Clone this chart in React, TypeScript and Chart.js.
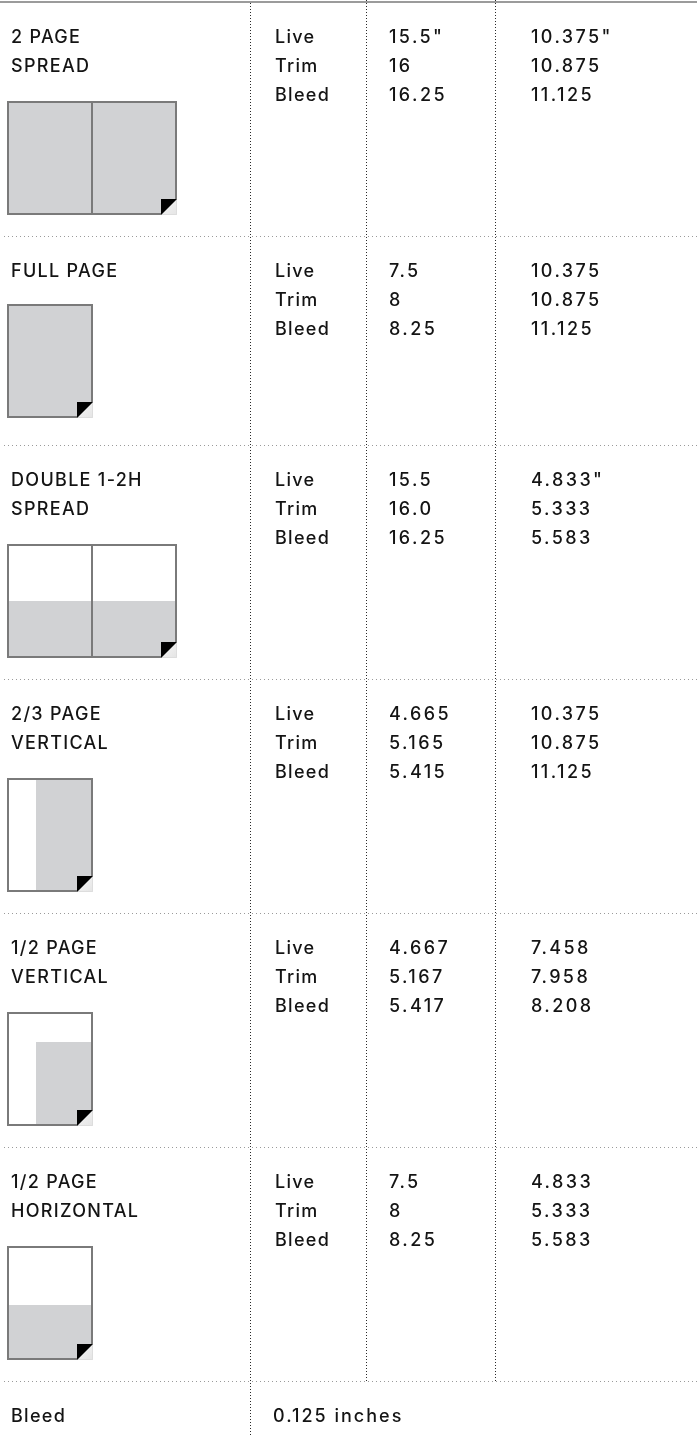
import React, { useEffect, useRef } from "react";
import { Chart, registerables } from "chart.js";

Chart.register(...registerables);

// ---------- data ----------
const adNames: string[][] = [
  ["2 PAGE", "SPREAD"],
  ["FULL PAGE"],
  ["DOUBLE 1-2H", "SPREAD"],
  ["2/3 PAGE", "VERTICAL"],
  ["1/2 PAGE", "VERTICAL"],
  ["1/2 PAGE", "HORIZONTAL"],
];
const dimLabels = ["Live", "Trim", "Bleed"];
const widthValues: string[][] = [
  ["15.5\"", "16", "16.25"],
  ["7.5", "8", "8.25"],
  ["15.5", "16.0", "16.25"],
  ["4.665", "5.165", "5.415"],
  ["4.667", "5.167", "5.417"],
  ["7.5", "8", "8.25"],
];
const heightValues: string[][] = [
  ["10.375\"", "10.875", "11.125"],
  ["10.375", "10.875", "11.125"],
  ["4.833\"", "5.333", "5.583"],
  ["10.375", "10.875", "11.125"],
  ["7.458", "7.958", "8.208"],
  ["4.833", "5.333", "5.583"],
];
const pageCounts = [2, 1, 2, 1, 1, 1];
// fraction of the page left blank (white) on the left / at the top
const blankLeft = [0, 0, 0, 0.333, 0.333, 0];
const blankTop = [0, 0, 0.5, 0, 0.26, 0.52];
const bleedLabel = "Bleed";
const bleedValue = "0.125 inches";

// ---------- layout / style ----------
const W = 697;
const H = 1441;
const TOP_Y = 2;
const TEXT_X = [11, 275, 389, 531];
const DIVIDERS_X = [250, 366, 495];
const LINE_GAP = 29;
const FIRST_BASE = 41;
const PAGE_W = 86;
const PAGE_H = 114;
const PAGE_X = 7;
const FOLD = 16;
const FONT = "500 18px Inter";
const LS_LABEL = "1.3px";
const LS_NUM = "2.4px";
const LS_BLEED = "2px";
const TEXT_COLOR = "#141414";
const GRAY_FILL = "#d1d2d4";
const PAGE_BORDER = "#7a7a7a";

function rowHeight(lines: number) {
  return lines > 1 ? 234 : 209;
}
function thumbOffset(lines: number) {
  return lines > 1 ? 99 : 68;
}

const tablePlugin = {
  id: "adTable",
  beforeDraw(chart: any) {
    const ctx = chart.ctx;
    ctx.save();
    ctx.fillStyle = "#ffffff";
    ctx.fillRect(0, 0, chart.width, chart.height);
    ctx.restore();
  },
  afterDraw(chart: any) {
    const ctx: CanvasRenderingContext2D = chart.ctx;
    const sx = chart.scales.x;
    const sy = chart.scales.y;
    const X = (v: number) => sx.getPixelForValue(v);
    const Y = (v: number) => sy.getPixelForValue(v);

    ctx.save();

    const rowTops: number[] = [];
    let r = TOP_Y;
    adNames.forEach((n) => {
      rowTops.push(r);
      r += rowHeight(n.length);
    });
    const lastTop = r;

    // top solid rule
    ctx.fillStyle = "#9b9b9b";
    ctx.fillRect(X(0), Y(TOP_Y - 1), X(W) - X(0), 2);

    // horizontal dotted separators
    ctx.strokeStyle = "#9a9a9a";
    ctx.lineWidth = 1;
    ctx.setLineDash([1, 3]);
    [...rowTops.slice(1), lastTop].forEach((t) => {
      ctx.beginPath();
      ctx.moveTo(X(4), Math.round(Y(t)) + 0.5);
      ctx.lineTo(X(W), Math.round(Y(t)) + 0.5);
      ctx.stroke();
    });

    // vertical dotted dividers
    ctx.strokeStyle = "#2a2a2a";
    ctx.setLineDash([1, 2]);
    DIVIDERS_X.forEach((dx, i) => {
      const end = i === 0 ? 1437 : lastTop;
      ctx.beginPath();
      ctx.moveTo(Math.round(X(dx)) + 0.5, Y(i === 0 ? TOP_Y + 1 : 0));
      ctx.lineTo(Math.round(X(dx)) + 0.5, Y(end));
      ctx.stroke();
    });
    ctx.setLineDash([]);

    // text
    ctx.fillStyle = TEXT_COLOR;
    ctx.font = FONT;
    ctx.textBaseline = "alphabetic";
    ctx.textAlign = "left";
    const c: any = ctx;

    adNames.forEach((lines, i) => {
      const t = rowTops[i];
      c.letterSpacing = LS_LABEL;
      lines.forEach((ln, k) => {
        ctx.fillText(ln, X(TEXT_X[0]), Y(t + FIRST_BASE + k * LINE_GAP));
      });
      dimLabels.forEach((lab, k) => {
        const yb = Y(t + FIRST_BASE + k * LINE_GAP);
        c.letterSpacing = LS_LABEL;
        ctx.fillText(lab, X(TEXT_X[1]), yb);
        c.letterSpacing = LS_NUM;
        ctx.fillText(widthValues[i][k], X(TEXT_X[2]), yb);
        ctx.fillText(heightValues[i][k], X(TEXT_X[3]), yb);
      });

      const ty = t + thumbOffset(lines.length);
      for (let p = 0; p < pageCounts[i]; p++) {
        const px = PAGE_X + p * (PAGE_W - 2);
        const last = p === pageCounts[i] - 1;
        drawPage(ctx, X(px), Y(ty), PAGE_W, PAGE_H, blankLeft[i], blankTop[i], last);
      }
    });

    ctx.fillStyle = TEXT_COLOR;
    c.letterSpacing = LS_LABEL;
    ctx.fillText(bleedLabel, X(TEXT_X[0]), Y(lastTop + FIRST_BASE));
    c.letterSpacing = LS_BLEED;
    ctx.fillText(bleedValue, X(273), Y(lastTop + FIRST_BASE));

    ctx.restore();
  },
};

function drawPage(
  ctx: CanvasRenderingContext2D,
  x: number,
  y: number,
  w: number,
  h: number,
  bl: number,
  bt: number,
  fold: boolean
) {
  ctx.save();
  ctx.fillStyle = "#ffffff";
  ctx.fillRect(x, y, w, h);
  ctx.fillStyle = GRAY_FILL;
  const gx = x + Math.round(w * bl);
  const gy = y + Math.round(h * bt);
  ctx.fillRect(gx, gy, x + w - gx, y + h - gy);

  const f = fold ? FOLD : 0;
  if (fold) {
    const g = ctx.createLinearGradient(x + w - f, y + h - f, x + w, y + h);
    g.addColorStop(0, "#f7f7f7");
    g.addColorStop(1, "#e4e4e4");
    ctx.fillStyle = g;
    ctx.beginPath();
    ctx.moveTo(x + w, y + h - f);
    ctx.lineTo(x + w, y + h);
    ctx.lineTo(x + w - f, y + h);
    ctx.closePath();
    ctx.fill();
    ctx.strokeStyle = "#dddddd";
    ctx.lineWidth = 1;
    ctx.beginPath();
    ctx.moveTo(x + w - 0.5, y + h - f);
    ctx.lineTo(x + w - 0.5, y + h - 0.5);
    ctx.lineTo(x + w - f, y + h - 0.5);
    ctx.stroke();
    ctx.fillStyle = "#000000";
    ctx.beginPath();
    ctx.moveTo(x + w - f, y + h - f);
    ctx.lineTo(x + w, y + h - f);
    ctx.lineTo(x + w - f, y + h);
    ctx.closePath();
    ctx.fill();
  }

  ctx.strokeStyle = PAGE_BORDER;
  ctx.lineWidth = 2;
  ctx.beginPath();
  ctx.moveTo(x + w - (fold ? f : 1), y + h - 1);
  ctx.lineTo(x + 1, y + h - 1);
  ctx.lineTo(x + 1, y + 1);
  ctx.lineTo(x + w - 1, y + 1);
  ctx.lineTo(x + w - 1, y + h - (fold ? f : 1));
  ctx.stroke();
  ctx.restore();
}

export default function App() {
  const ref = useRef<HTMLCanvasElement | null>(null);
  useEffect(() => {
    document.body.style.margin = "0";
    const canvas = ref.current;
    if (!canvas) return;
    let chart: Chart | null = null;
    let cancelled = false;
    const build = () => {
      if (cancelled) return;
      chart = new Chart(canvas, {
        type: "scatter",
        data: { datasets: [] },
        options: {
          animation: false,
          responsive: false,
          devicePixelRatio: 1,
          layout: { padding: 0 },
          events: [],
          plugins: { legend: { display: false }, tooltip: { enabled: false } },
          scales: {
            x: { type: "linear", min: 0, max: W, display: false },
            y: { type: "linear", min: 0, max: H, reverse: true, display: false },
          },
        },
        plugins: [tablePlugin],
      } as any);
    };
    const fonts: any = (document as any).fonts;
    if (fonts && fonts.load) {
      fonts.load(FONT).then(build, build);
    } else {
      build();
    }
    return () => {
      cancelled = true;
      if (chart) chart.destroy();
    };
  }, []);
  return (
    <div style={{ position: "absolute", left: 0, top: 0, width: W, height: H }}>
      <canvas ref={ref} width={W} height={H} style={{ display: "block", width: W, height: H }} />
    </div>
  );
}
